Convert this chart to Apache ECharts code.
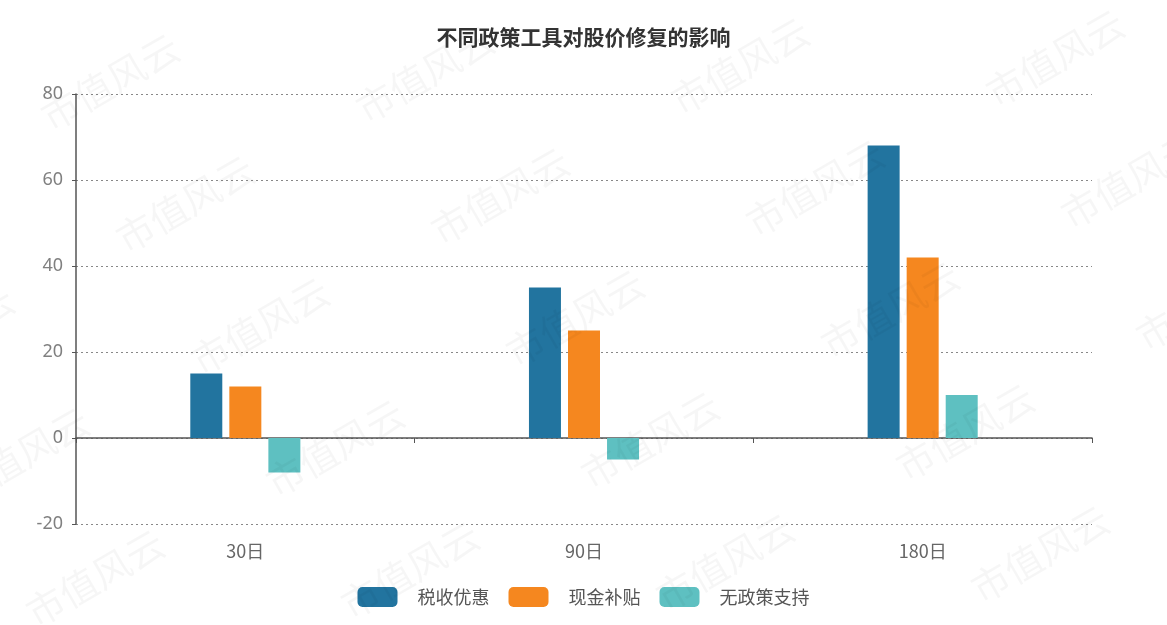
<!DOCTYPE html>
<html>
<head>
<meta charset="utf-8">
<script src="https://cdn.jsdelivr.net/npm/echarts@6/dist/echarts.min.js"></script>
<style>
  html, body { margin: 0; padding: 0; background: #fff; }
  #main { width: 1167px; height: 625px; }
</style>
</head>
<body>
<div id="main"></div>
<script>
// 数据
var categories = ['30日', '90日', '180日'];
var seriesNames = ['税收优惠', '现金补贴', '无政策支持'];
var taxData = [15, 35, 68];
var cashData = [12, 25, 42];
var noneData = [-8, -5, 10];
var colors = ['#22749f', '#f5871f', '#5ec0c1'];

// 水印 市值风云
var marks = [];
for (var r = -1; r < 6; r++) {
  for (var c = -1; c < 5; c++) {
    marks.push({
      type: 'text',
      x: 110 + c * 315 + r * 75,
      y: 82 + r * 122 - c * 8,
      rotation: Math.PI / 6,
      style: {
        text: '市值风云',
        font: '38px "Noto Sans CJK SC"',
        fill: 'rgba(0,0,0,0.035)',
        align: 'center',
        verticalAlign: 'middle'
      },
      silent: true,
      z: 100
    });
  }
}

var myChart = echarts.init(document.getElementById('main'));
var option = {
  color: colors,
  title: {
    text: '不同政策工具对股价修复的影响',
    left: 'center',
    top: 22,
    textStyle: {
      fontSize: 21,
      fontWeight: 'bold',
      color: '#333',
      fontFamily: 'Noto Sans CJK SC'
    }
  },
  legend: {
    bottom: 13,
    itemWidth: 40,
    itemHeight: 20,
    itemGap: 19,
    textStyle: { fontSize: 18, color: '#555', fontFamily: 'Noto Sans CJK SC', padding: [0, 0, 0, 15] },
    data: seriesNames
  },
  grid: {
    left: 76,
    right: 75,
    top: 94,
    bottom: 101,
    containLabel: false,
    outerBoundsMode: 'none'
  },
  xAxis: {
    type: 'category',
    data: categories,
    axisLine: { onZero: true, lineStyle: { color: '#555', width: 1.5 } },
    axisTick: { show: true, lineStyle: { color: '#555' } },
    axisLabel: { fontSize: 18, color: '#666', margin: 18, fontFamily: 'Noto Sans CJK SC' }
  },
  yAxis: {
    type: 'value',
    min: -20,
    max: 80,
    interval: 20,
    axisLine: { show: true, lineStyle: { color: '#555', width: 1.5 } },
    axisTick: { show: true, length: 4, lineStyle: { color: '#555' } },
    axisLabel: { fontSize: 18, color: '#808080', margin: 13, fontFamily: 'Noto Sans' },
    splitLine: { show: true, lineStyle: { color: '#888', type: [2, 3] } }
  },
  graphic: marks,
  series: [
    { name: seriesNames[0], type: 'bar', data: taxData, barWidth: 32, barGap: '22%' },
    { name: seriesNames[1], type: 'bar', data: cashData, barWidth: 32, barGap: '22%' },
    { name: seriesNames[2], type: 'bar', data: noneData, barWidth: 32, barGap: '22%' }
  ]
};
myChart.setOption(option);
</script>
</body>
</html>
